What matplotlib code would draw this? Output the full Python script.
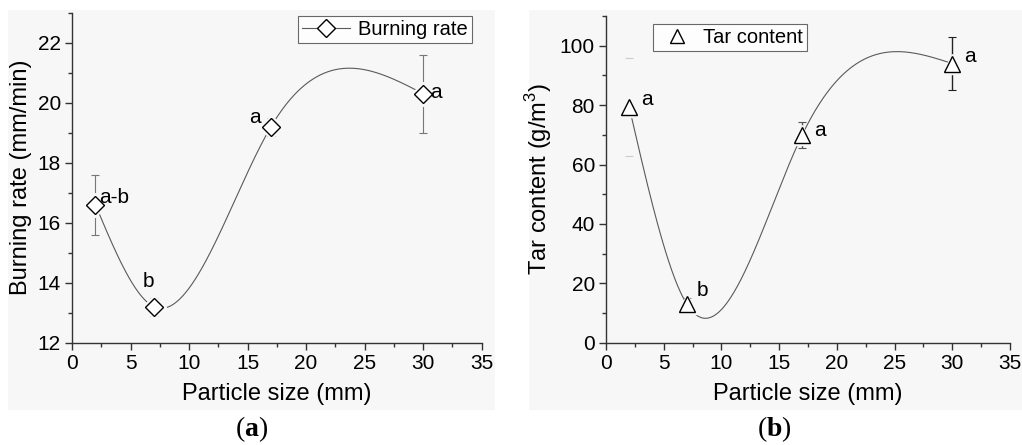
import numpy as np
import matplotlib
matplotlib.use("Agg")
import matplotlib.pyplot as plt
from matplotlib.patches import Rectangle
from matplotlib.ticker import MultipleLocator

plt.rcParams['font.family'] = ['Liberation Sans', 'DejaVu Sans']
plt.rcParams['mathtext.fontset'] = 'custom'
plt.rcParams['mathtext.rm'] = 'Liberation Sans'
plt.rcParams['mathtext.bf'] = 'Liberation Serif:bold'

# ---- data ----
particle_size = [2, 7, 17, 30]
burning_rate = [16.6, 13.2, 19.2, 20.3]
burning_err = [1.0, 0.3, 0.3, 1.3]
burning_labels = ['a-b', 'b', 'a', 'a']
tar_content = [79.5, 13.0, 70.0, 94.0]
tar_err = [16.5, 2.0, 4.4, 9.0]
tar_labels = ['a', 'b', 'a', 'a']

BG = '#f7f7f7'
LINE = '#5a5a5a'
SPINE = '#333333'


def natural_spline(x, y, n=400):
    x = np.asarray(x, float); y = np.asarray(y, float)
    k = len(x)
    h = np.diff(x)
    A = np.zeros((k, k)); b = np.zeros(k)
    A[0, 0] = 1; A[-1, -1] = 1
    for i in range(1, k - 1):
        A[i, i - 1] = h[i - 1]
        A[i, i] = 2 * (h[i - 1] + h[i])
        A[i, i + 1] = h[i]
        b[i] = 3 * ((y[i + 1] - y[i]) / h[i] - (y[i] - y[i - 1]) / h[i - 1])
    c = np.linalg.solve(A, b)
    xs = np.linspace(x[0], x[-1], n)
    ys = np.empty_like(xs)
    for j, xv in enumerate(xs):
        i = min(np.searchsorted(x, xv, side='right') - 1, k - 2)
        dx = xv - x[i]
        bb = (y[i + 1] - y[i]) / h[i] - h[i] * (2 * c[i] + c[i + 1]) / 3
        d = (c[i + 1] - c[i]) / (3 * h[i])
        ys[j] = y[i] + bb * dx + c[i] * dx ** 2 + d * dx ** 3
    return xs, ys


W, H = 1022, 445
fig = plt.figure(figsize=(W / 100, H / 100), dpi=100)
fig.patch.set_facecolor('white')

# light gray panel backgrounds
fig.patches.append(Rectangle((8 / W, 1 - 410 / H), (495 - 8) / W, 400 / H,
                             transform=fig.transFigure, facecolor=BG, edgecolor='none', zorder=-5))
fig.patches.append(Rectangle((529 / W, 1 - 410 / H), (1022 - 529) / W, 400 / H,
                             transform=fig.transFigure, facecolor=BG, edgecolor='none', zorder=-5))

axa = fig.add_axes([72 / W, 1 - 342.7 / H, (481.7 - 72) / W, (342.7 - 12.7) / H])
axb = fig.add_axes([606 / W, 1 - 342.7 / H, (1010 - 606) / W, (342.7 - 16) / H])


def style(ax, ylim, ymajor, yminor):
    ax.set_facecolor('none')
    ax.set_xlim(0, 35)
    ax.set_ylim(*ylim)
    ax.xaxis.set_major_locator(MultipleLocator(5))
    ax.xaxis.set_minor_locator(MultipleLocator(2.5))
    ax.yaxis.set_major_locator(MultipleLocator(ymajor))
    ax.yaxis.set_minor_locator(MultipleLocator(yminor))
    for s in ['top', 'right']:
        ax.spines[s].set_visible(False)
    for s in ['left', 'bottom']:
        ax.spines[s].set_color(SPINE)
        ax.spines[s].set_linewidth(1.0)
    ax.tick_params(which='major', direction='out', length=5, width=1, color=SPINE,
                   labelsize=15, pad=3)
    ax.tick_params(which='minor', direction='out', length=3, width=1, color=SPINE)
    ax.set_xlabel('Particle size (mm)', fontsize=17, labelpad=7)


# ---- panel a ----
style(axa, (12, 23), 2, 1)
axa.set_yticks([12, 14, 16, 18, 20, 22])
xs, ys = natural_spline(particle_size, burning_rate)
axa.plot(xs, ys, color=LINE, lw=0.8, zorder=2)
axa.errorbar(particle_size, burning_rate, yerr=burning_err, fmt='none',
             ecolor='#777777', elinewidth=0.8, capsize=3, capthick=0.8, zorder=3)
axa.plot(particle_size, burning_rate, ls='none', marker='D', ms=12.5,
         mfc=BG, mec=BG, zorder=4)
axa.plot(particle_size, burning_rate, ls='none', marker='D', ms=9,
         mfc='white', mec='black', mew=1.0, zorder=5)
la_off = [(0.35, 0.25, 'left'), (-0.5, 0.85, 'center'), (-1.4, 0.3, 'center'), (0.6, 0.05, 'left')]
for xv, yv, t, (dx, dy, ha) in zip(particle_size, burning_rate, burning_labels, la_off):
    axa.text(xv + dx, yv + dy, t, fontsize=15, ha=ha, va='center', zorder=6)
axa.set_ylabel('Burning rate (mm/min)', fontsize=17, labelpad=4)
h1, = axa.plot([], [], color=LINE, lw=0.8, marker='D', ms=9, mfc='white', mec='black')
leg = fig.legend([h1], ['Burning rate'], loc='upper left',
                 bbox_to_anchor=(298 / W, 1 - 16 / H), bbox_transform=fig.transFigure,
                 fontsize=14.5, frameon=True, fancybox=False, borderaxespad=0,
                 handlelength=2.4, borderpad=0.2, handletextpad=0.4)
leg.get_frame().set_edgecolor('#444444')
leg.get_frame().set_linewidth(0.8)
leg.get_frame().set_facecolor('white')

# ---- panel b ----
style(axb, (0, 110), 20, 10)
axb.set_yticks([0, 20, 40, 60, 80, 100])
xs, ys = natural_spline(particle_size, tar_content)
axb.plot(xs, ys, color=LINE, lw=0.8, zorder=2)
ecols = ['#cccccc', '#777777', '#555555', '#222222']
for i, (xv, yv, e) in enumerate(zip(particle_size, tar_content, tar_err)):
    axb.errorbar([xv], [yv], yerr=[e], fmt='none', ecolor=ecols[i],
                 elinewidth=0 if i == 0 else 1.0, capsize=3, capthick=0.8, zorder=3)
axb.plot(particle_size, tar_content, ls='none', marker='^', ms=14,
         mfc=BG, mec=BG, zorder=4)
axb.plot(particle_size, tar_content, ls='none', marker='^', ms=11,
         mfc='white', mec='black', mew=1.0, zorder=5)
lb_off = [(1.0, 2.3, 'left'), (0.85, 4.5, 'left'), (1.05, 1.4, 'left'), (1.0, 2.4, 'left')]
for xv, yv, t, (dx, dy, ha) in zip(particle_size, tar_content, tar_labels, lb_off):
    axb.text(xv + dx, yv + dy, t, fontsize=15, ha=ha, va='center', zorder=6)
axb.set_ylabel('Tar content (g/m$^3$)', fontsize=17, labelpad=4)
h2, = axb.plot([], [], ls='none', marker='^', ms=10, mfc='white', mec='black')
leg2 = fig.legend([h2], ['Tar content'], loc='upper left',
                  bbox_to_anchor=(653 / W, 1 - 24 / H), bbox_transform=fig.transFigure,
                  fontsize=14.5, frameon=True, fancybox=False, borderaxespad=0,
                  handlelength=2.0, borderpad=0.2, handletextpad=0.3)
leg2.get_frame().set_edgecolor('#444444')
leg2.get_frame().set_linewidth(0.8)
leg2.get_frame().set_facecolor('white')

# sub-captions
fig.text(252 / W, 1 - 429 / H, r'($\mathbf{a}$)', fontsize=20, ha='center', va='center',
         family='Liberation Serif')
fig.text(774 / W, 1 - 429 / H, r'($\mathbf{b}$)', fontsize=20, ha='center', va='center',
         family='Liberation Serif')

fig.savefig('out.png', dpi=100)
